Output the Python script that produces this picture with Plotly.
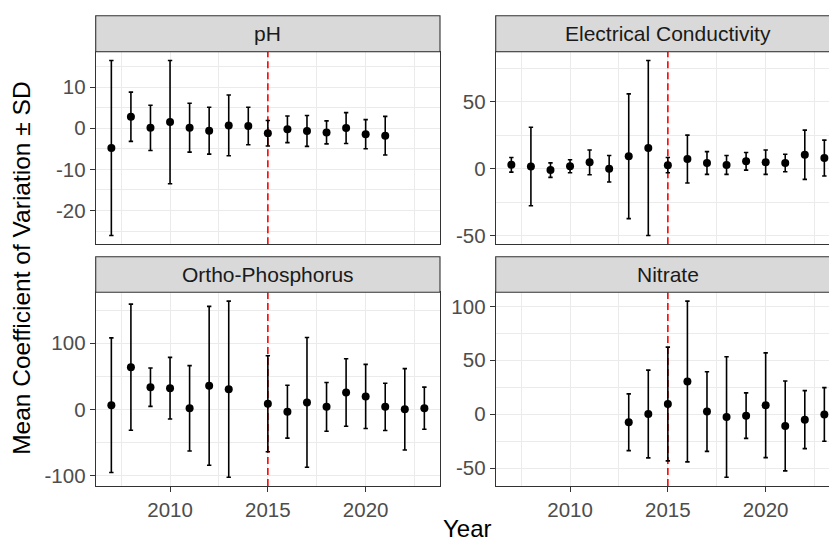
import math
import plotly.graph_objects as go

# ---------------- data ----------------
years = [2007, 2008, 2009, 2010, 2011, 2012, 2013, 2014, 2015,
         2016, 2017, 2018, 2019, 2020, 2021, 2022, 2023]

ph_mean = [-4.8, 2.8, 0.1, 1.5, 0.15, -0.6, 0.7, 0.55, -1.2,
           -0.25, -0.65, -1.0, 0.05, -1.45, -1.8, None, None]
ph_sd = [21.3, 6.0, 5.5, 15.0, 5.95, 5.7, 7.4, 4.55, 3.1,
         3.25, 3.75, 2.8, 3.75, 3.55, 4.7, None, None]

ec_mean = [2.95, 1.7, -1.0, 1.85, 4.8, 0.0, 9.35, 15.5, 2.7,
           7.25, 4.3, 2.85, 5.55, 4.9, 4.3, 10.45, 8.0]
ec_sd = [5.45, 29.3, 5.4, 4.85, 9.2, 9.9, 46.55, 65.3, 5.7,
         17.85, 8.5, 7.05, 6.55, 9.1, 6.5, 18.35, 13.4]

op_mean = [6.25, 63.75, 33.5, 32.0, 1.5, 35.5, 30.5, None, 8.5,
           -3.5, 10.5, 3.75, 25.5, 19.5, 3.75, 0.0, 1.75]
op_sd = [101.75, 95.25, 29.0, 46.5, 64.5, 120.0, 133.0, None, 72.5,
         40.0, 98.0, 36.75, 51.0, 48.5, 35.75, 61.5, 31.75]

no3_mean = [None, None, None, None, None, None, -7.5, 0.15, 9.4,
            30.3, 2.45, -2.65, -1.4, 8.3, -10.9, -5.1, -0.3]
no3_sd = [None, None, None, None, None, None, 26.3, 40.75, 52.8,
          74.6, 36.95, 55.85, 21.1, 48.6, 41.7, 26.9, 24.9]

panel_titles = ["pH", "Electrical Conductivity", "Ortho-Phosphorus", "Nitrate"]
y_dticks = [10, 50, 100, 50]
x_tickvals = [2010, 2015, 2020]
x_ticktext = ["2010", "2015", "2020"]
x_minor_vals = [2007.5, 2012.5, 2017.5, 2022.5]
cutoff_year = 2015

# ---------------- layout geometry (pixels) ----------------
W, H = 829, 541
FONT = "Liberation Sans, Arial, Helvetica, sans-serif"
left_x = (95.7, 440.0)
right_x = (495.7, 840.0)          # full panel extends past the visible page
top_y = (51.7, 244.3)             # panel top, bottom (px from top)
bot_y = (292.3, 486.0)
top_strip = 15.7
bot_strip = 256.7

def fx(px):
    return px / W

def fy(py):
    return (H - py) / H

# shared x range (ggplot 5% expansion)
span = max(years) - min(years)
x_full = [min(years) - 0.05 * span, max(years) + 0.05 * span]
vis_frac = (W - right_x[0]) / (right_x[1] - right_x[0])
x_right = [x_full[0], x_full[0] + (x_full[1] - x_full[0]) * vis_frac]

def yrange(mean, sd):
    lo = min(m - s for m, s in zip(mean, sd) if m is not None)
    hi = max(m + s for m, s in zip(mean, sd) if m is not None)
    e = 0.05 * (hi - lo)
    return [lo - e, hi + e]

def ticks_in(rng, step):
    start = math.ceil(rng[0] / step)
    stop = math.floor(rng[1] / step)
    return [k * step for k in range(start, stop + 1)]

# panel specs: (axis suffix, title, dtick, mean, sd, column, row)
panels = [
    ("3", panel_titles[0], y_dticks[0], ph_mean, ph_sd, "left", "top"),
    ("4", panel_titles[1], y_dticks[1], ec_mean, ec_sd, "right", "top"),
    ("", panel_titles[2], y_dticks[2], op_mean, op_sd, "left", "bottom"),
    ("2", panel_titles[3], y_dticks[3], no3_mean, no3_sd, "right", "bottom"),
]

fig = go.Figure()
layout = dict(
    width=W, height=H,
    margin=dict(l=0, r=0, t=0, b=0, autoexpand=False),
    paper_bgcolor="white", plot_bgcolor="white",
    showlegend=False,
    font=dict(family=FONT, color="#1A1A1A"),
)
shapes = []
annotations = []

GRID = "#EBEBEB"
LINE = "#333333"

for suf, title, dt, mean, sd, col, row in panels:
    xa = "x" + suf
    ya = "y" + suf
    xdom = [fx(left_x[0]), fx(left_x[1])] if col == "left" else [fx(right_x[0]), 1.0]
    py = top_y if row == "top" else bot_y
    ydom = [fy(py[1]), fy(py[0])]
    xr = x_full if col == "left" else x_right
    yr = yrange(mean, sd)
    yt = ticks_in(yr, dt)
    ym = [v for v in ticks_in(yr, dt / 2) if v not in yt]

    layout["xaxis" + suf] = dict(
        domain=xdom, anchor=ya, range=xr,
        tickmode="array", tickvals=x_tickvals, ticktext=x_ticktext,
        showticklabels=(row == "bottom"),
        ticks="outside" if row == "bottom" else "",
        ticklen=5, tickwidth=1.1, tickcolor=LINE,
        tickfont=dict(size=20.5, color="#4D4D4D", family=FONT),
        showgrid=True, gridcolor=GRID, gridwidth=1.1,
        minor=dict(tickmode="array", tickvals=x_minor_vals,
                   showgrid=True, gridcolor=GRID, gridwidth=0.55, ticks=""),
        showline=True, linecolor=LINE, linewidth=1.1, mirror=True,
        zeroline=False, fixedrange=True,
    )
    layout["yaxis" + suf] = dict(
        domain=ydom, anchor=xa, range=yr,
        tickmode="array", tickvals=yt, ticktext=["%d" % v for v in yt],
        ticks="outside", ticklen=5, tickwidth=1.1, tickcolor=LINE,
        tickfont=dict(size=20.5, color="#4D4D4D", family=FONT),
        showgrid=True, gridcolor=GRID, gridwidth=1.1,
        minor=dict(tickmode="array", tickvals=ym, showgrid=True, gridcolor=GRID,
                   gridwidth=0.55, ticks=""),
        showline=True, linecolor=LINE, linewidth=1.1,
        mirror=(col == "left"),
        zeroline=False, fixedrange=True,
    )

    # dashed reference line, drawn as a trace below the points
    fig.add_trace(go.Scatter(
        x=[cutoff_year, cutoff_year], y=yr, mode="lines",
        line=dict(color="#FF0000", width=1.6, dash="7px,4px"),
        xaxis=xa, yaxis=ya, hoverinfo="skip",
    ))

    # strip
    s_top = top_strip if row == "top" else bot_strip
    shapes.append(dict(
        type="rect", xref=xa + " domain", yref="paper",
        x0=0, x1=1 if col == "left" else 1.1,
        y0=fy(py[0]), y1=fy(s_top),
        fillcolor="#D9D9D9", line=dict(color=LINE, width=1.1),
    ))
    if col == "left":
        cx = 0.5
    else:
        cx = ((right_x[0] + right_x[1]) / 2 - right_x[0]) / (W - right_x[0])
    annotations.append(dict(
        xref=xa + " domain", yref="paper",
        x=cx, y=fy((py[0] + s_top) / 2),
        text=title, showarrow=False,
        xanchor="center", yanchor="middle",
        font=dict(size=21, color="#1A1A1A", family=FONT),
    ))

    fig.add_trace(go.Scatter(
        x=years, y=mean, mode="markers",
        marker=dict(color="black", size=8),
        error_y=dict(type="data", array=sd, visible=True,
                     color="black", thickness=1.6, width=2.2),
        xaxis=xa, yaxis=ya, hoverinfo="x+y",
    ))

# axis titles
annotations.append(dict(
    xref="paper", yref="paper", x=fx(22), y=fy((top_y[0] + bot_y[1]) / 2),
    text="Mean Coefficient of Variation ± SD", textangle=-90, showarrow=False,
    xanchor="center", yanchor="middle",
    font=dict(size=24.5, color="black", family=FONT),
))
annotations.append(dict(
    xref="paper", yref="paper", x=fx((left_x[0] + right_x[1]) / 2), y=fy(528),
    text="Year", showarrow=False, xanchor="center", yanchor="middle",
    font=dict(size=24, color="black", family=FONT),
))

layout["shapes"] = shapes
layout["annotations"] = annotations
fig.update_layout(**layout)

fig.write_html(
    "out.html",
    config={"displayModeBar": False},
    post_script="document.body.style.margin='0';document.body.style.overflow='hidden';",
)
